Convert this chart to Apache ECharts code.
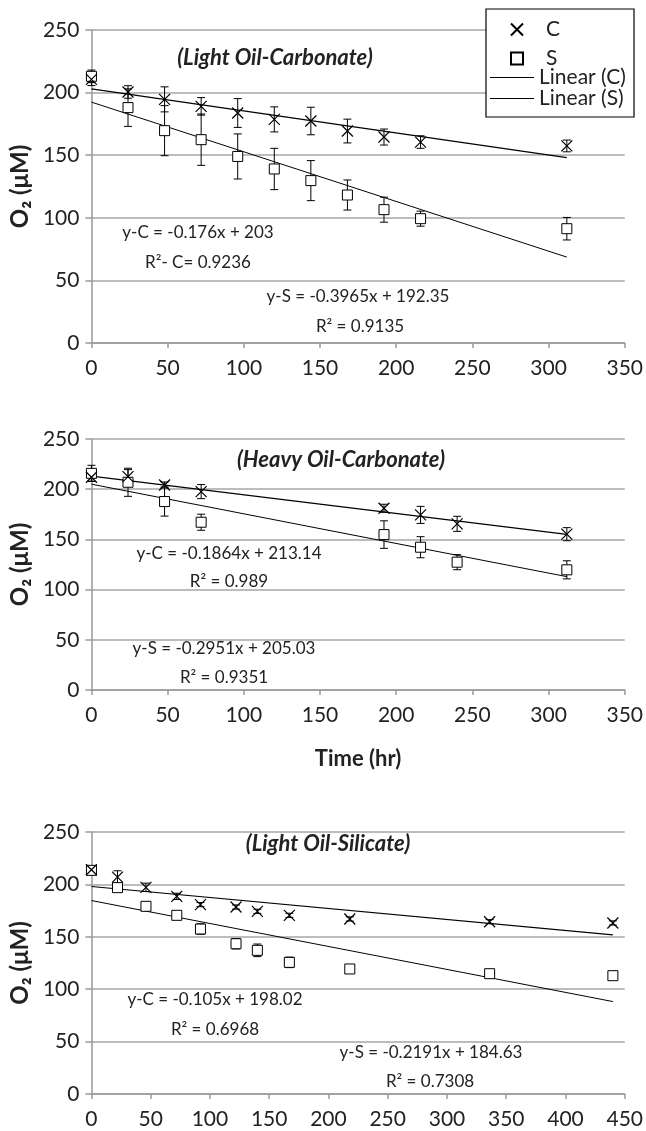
<!DOCTYPE html>
<html lang="en">
<head>
    <meta charset="utf-8">
    <title>O2 consumption</title>
    <script src="https://cdn.jsdelivr.net/npm/echarts@6/dist/echarts.min.js"></script>
    <style>
        html, body { margin: 0; padding: 0; background: #fff; }
        #main { width: 646px; height: 1131px; }
    </style>
</head>
<body>
<div id="main"></div>
<script>
    // panel 1 - light oil / carbonate
    var hours1 = [0, 24, 48, 72, 96, 120, 144, 168, 192, 216, 312];
    var c1 = [210.6, 200.5, 194.6, 189, 183.7, 178.6, 177.3, 169.3, 164.5, 160.5, 157.4];
    var c1Err = [5, 5, 10, 7, 11.5, 10, 11, 9.5, 6.4, 5, 4.7];
    var s1 = [213, 188, 169.6, 162.4, 149, 139, 129.7, 118.2, 106.5, 99.3, 91.3];
    var s1Err = [5, 15, 20, 20.5, 18, 16.5, 16, 12, 10, 6, 9];
    var c1Fit = [[0, 203], [312, 148.1]];
    var s1Fit = [[0, 192.4], [312, 68.6]];

    // panel 2 - heavy oil / carbonate
    var hours2 = [0, 24, 48, 72, 192, 216, 240, 312];
    var c2 = [211.9, 212.5, 204.2, 197.6, 181, 174.4, 165.5, 155.2];
    var c2Err = [4, 7, 3, 7, 4, 8.5, 7.5, 6.5];
    var s2 = [215.8, 206.9, 187.7, 167.1, 154.8, 142.2, 127.3, 119.7];
    var s2Err = [8, 14, 14.5, 8, 13.7, 10.5, 7.5, 9];
    var c2Fit = [[0, 213.1], [312, 155]];
    var s2Fit = [[0, 205], [312, 112.9]];

    // panel 3 - light oil / silicate
    var hours3 = [0, 22, 46, 72, 92, 122, 140, 167, 218, 336, 440];
    var c3 = [214, 207, 197.2, 188.6, 180.7, 178.4, 174.3, 170.5, 167, 164.4, 163.2];
    var c3Err = [3, 6, 4, 3, 2, 2, 2, 2, 2, 2, 2];
    var s3 = [213.4, 196.9, 179.1, 170.5, 157.4, 143.4, 137.1, 125.6, 119.3, 114.8, 112.9];
    var s3Err = [3, 3, 4, 3, 5, 5, 6, 5, 4, 3, 3];
    var c3Fit = [[0, 198], [440, 151.8]];
    var s3Fit = [[0, 184.6], [440, 88.2]];

    var yTicks = [0, 50, 100, 150, 200, 250];

    var FONT = 'Lato';
    var crossPath = 'path://M0,0 L10,10 M10,0 L0,10';

    function pairs(xs, ys) {
        return xs.map(function (x, i) { return [x, ys[i]]; });
    }
    function triples(xs, ys, es) {
        return xs.map(function (x, i) { return [x, ys[i], es[i]]; });
    }

    function errorBars(params, api) {
        var x = api.value(0), y = api.value(1), e = api.value(2);
        var top = api.coord([x, y + e]);
        var bot = api.coord([x, y - e]);
        var w = 4;
        var st = { stroke: '#000', lineWidth: 1 };
        return {
            type: 'group',
            children: [
                { type: 'line', shape: { x1: top[0], y1: top[1], x2: bot[0], y2: bot[1] }, style: st },
                { type: 'line', shape: { x1: top[0] - w, y1: top[1], x2: top[0] + w, y2: top[1] }, style: st },
                { type: 'line', shape: { x1: bot[0] - w, y1: bot[1], x2: bot[0] + w, y2: bot[1] }, style: st }
            ]
        };
    }

    function panelSeries(idx, xs, c, cErr, s, sErr, cFit, sFit) {
        return [
            { type: 'custom', xAxisIndex: idx, yAxisIndex: idx, renderItem: errorBars, data: triples(xs, c, cErr), z: 2 },
            { type: 'custom', xAxisIndex: idx, yAxisIndex: idx, renderItem: errorBars, data: triples(xs, s, sErr), z: 2 },
            {
                name: 'Linear (C)', type: 'line', xAxisIndex: idx, yAxisIndex: idx, data: cFit,
                symbol: 'none', lineStyle: { color: '#000', width: 1.2 }, itemStyle: { color: '#000' }, z: 3
            },
            {
                name: 'Linear (S)', type: 'line', xAxisIndex: idx, yAxisIndex: idx, data: sFit,
                symbol: 'none', lineStyle: { color: '#000', width: 1 }, itemStyle: { color: '#000' }, z: 3
            },
            {
                name: 'S', type: 'scatter', xAxisIndex: idx, yAxisIndex: idx, data: pairs(xs, s),
                symbol: 'rect', symbolSize: 10,
                itemStyle: { color: '#fff', borderColor: '#000', borderWidth: 1, opacity: 1 }, z: 4
            },
            {
                name: 'C', type: 'scatter', xAxisIndex: idx, yAxisIndex: idx, data: pairs(xs, c),
                symbol: crossPath, symbolSize: 11,
                itemStyle: { color: 'rgba(0,0,0,0)', borderColor: '#000', borderWidth: 1.2, opacity: 1 }, z: 5
            }
        ];
    }

    function xAx(idx, max, name) {
        return {
            type: 'value', gridIndex: idx, min: 0, max: max, interval: 50,
            name: name || '', nameLocation: 'middle', nameGap: 58,
            nameTextStyle: { fontFamily: FONT, fontSize: 22, fontWeight: 'bold', color: '#222' },
            axisLine: { show: true, lineStyle: { color: '#999', width: 1.5 } },
            axisTick: { show: true, length: 5, lineStyle: { color: '#999', width: 1.5 } },
            axisLabel: { fontFamily: FONT, fontSize: 21, color: '#222', margin: 15 },
            splitLine: { show: false }
        };
    }

    function yAx(idx) {
        return {
            type: 'value', gridIndex: idx, min: yTicks[0], max: yTicks[yTicks.length - 1], interval: 50,
            name: 'O\u2082 (\u03bcM)', nameLocation: 'middle', nameGap: 57, nameRotate: 90,
            nameTextStyle: { fontFamily: FONT, fontSize: 24, fontWeight: 'bold', color: '#222' },
            axisLine: { show: true, lineStyle: { color: '#999', width: 1.5 } },
            axisTick: { show: true, length: 6, lineStyle: { color: '#999', width: 1.5 } },
            axisLabel: { fontFamily: FONT, fontSize: 21, color: '#222', margin: 12 },
            splitLine: { show: true, lineStyle: { color: '#a6a6a6', width: 1.5 } }
        };
    }

    function label(x, y, text, opts) {
        opts = opts || {};
        return {
            type: 'text', x: x, y: y, z: 20,
            style: {
                text: text, fill: '#222',
                font: (opts.style || 'normal') + ' ' + (opts.weight || 'normal') + ' ' + (opts.size || 17) + 'px ' + FONT,
                align: 'center', verticalAlign: 'middle'
            }
        };
    }

    var myChart = echarts.init(document.getElementById('main'), null, { renderer: 'canvas' });

    var option = {
        backgroundColor: '#fff',
        animation: false,
        grid: [
            { left: 90, top: 30, width: 540, height: 313 },
            { left: 85, top: 439, width: 542, height: 251 },
            { left: 91, top: 832, width: 535, height: 262 }
        ],
        xAxis: [xAx(0, 350), xAx(1, 350, 'Time (hr)'), xAx(2, 450)],
        yAxis: [yAx(0), yAx(1), yAx(2)],
        legend: [
            {
                data: ['C', 'S'], orient: 'vertical', left: 510, top: 19, padding: 0,
                itemWidth: 12, itemHeight: 12, itemGap: 8, z: 10,
                textStyle: { fontFamily: FONT, fontSize: 21, lineHeight: 20, color: '#222', padding: [0, 0, 0, 18] }
            },
            {
                data: ['Linear (C)', 'Linear (S)'], orient: 'vertical', left: 490, top: 67, padding: 0,
                icon: 'rect', itemWidth: 44, itemHeight: 1.2, itemGap: 0, z: 10,
                textStyle: { fontFamily: FONT, fontSize: 21, lineHeight: 20, color: '#222' }
            }
        ],
        graphic: [
            {
                type: 'rect', z: 8, shape: { x: 486, y: 9, width: 148, height: 108 },
                style: { fill: '#fff', stroke: '#000', lineWidth: 1.2 }
            },
            label(275, 58, '(Light Oil-Carbonate)', { style: 'italic', weight: 'bold', size: 22 }),
            label(198, 233, 'y-C = -0.176x + 203'),
            label(198, 263, 'R\u00b2- C= 0.9236'),
            label(358, 297, 'y-S = -0.3965x + 192.35'),
            label(360, 327, 'R\u00b2 = 0.9135'),

            label(341, 460, '(Heavy Oil-Carbonate)', { style: 'italic', weight: 'bold', size: 22 }),
            label(229, 554, 'y-C = -0.1864x + 213.14'),
            label(229, 582, 'R\u00b2 = 0.989'),
            label(224, 649, 'y-S = -0.2951x + 205.03'),
            label(224, 678, 'R\u00b2 = 0.9351'),

            label(328, 844, '(Light Oil-Silicate)', { style: 'italic', weight: 'bold', size: 22 }),
            label(215, 1000, 'y-C = -0.105x + 198.02'),
            label(215, 1030, 'R\u00b2 = 0.6968'),
            label(431, 1053, 'y-S = -0.2191x + 184.63'),
            label(430, 1082, 'R\u00b2 = 0.7308')
        ],
        series: [].concat(
            panelSeries(0, hours1, c1, c1Err, s1, s1Err, c1Fit, s1Fit),
            panelSeries(1, hours2, c2, c2Err, s2, s2Err, c2Fit, s2Fit),
            panelSeries(2, hours3, c3, c3Err, s3, s3Err, c3Fit, s3Fit)
        )
    };

    myChart.setOption(option);
</script>
</body>
</html>
